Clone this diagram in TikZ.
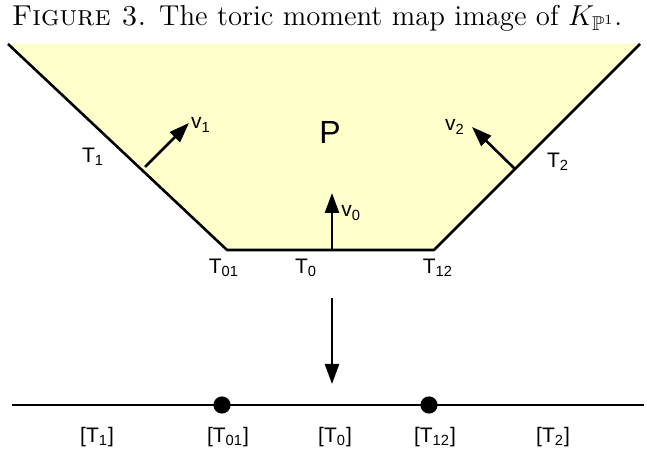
\documentclass[tikz,border=0pt]{standalone}
\usepackage{amssymb}
\usepackage{fontspec}
\newfontfamily\lblfont{Liberation Sans}
\usetikzlibrary{arrows.meta}
\definecolor{polyfill}{RGB}{255,255,204}
\tikzset{
  lbl/.style={font=\lblfont\fontsize{10.5}{12}\selectfont, inner sep=1pt},
  normal/.style={->, line width=1.3pt},
  edge/.style={line width=1.3pt},
  vertex/.style={circle, fill=black, inner sep=0pt, minimum size=8.6pt}
}
\begin{document}
\begin{tikzpicture}[x=10pt, y=10pt, line join=round, >={Triangle[length=10pt,width=7pt]}]
			\useasboundingbox (0,0) rectangle (32.35,22.45);
			\coordinate (TL) at (0.4,20.25);
			\coordinate (A) at (11.35,9.95);
			\coordinate (B) at (21.7,9.95);
			\coordinate (TR) at (32.0,20.25);
			
			\node[font=\fontsize{14.4}{17}\selectfont] (cap) at (15.85,21.55) {\textsc{Figure 3.} The toric moment map image of $K_{\mathbb{P}^1}$.};
			
			\fill[polyfill] (TL) -- (A) -- (B) -- (TR) -- cycle;
			\draw[edge] (TL) -- (A) -- (B) -- (TR);
			
			\coordinate (v1s) at (7.25,14.1);
			\coordinate (v1e) at (9.45,16.3);
			\coordinate (v2s) at (25.75,14.0);
			\coordinate (v2e) at (23.6,16.1);
			\coordinate (v0s) at (16.6,9.95);
			\coordinate (v0e) at (16.6,12.8);
			\draw[normal] (v1s) -- (v1e);
			\draw[normal] (v2s) -- (v2e);
			\draw[normal] (v0s) -- (v0e);
			
			\node[lbl] (v1) at (10.05,16.2) {v\textsubscript{1}};
			\node[lbl] (v2) at (22.75,16.1) {v\textsubscript{2}};
			\node[lbl, anchor=west] (v0) at (16.95,11.8) {v\textsubscript{0}};
			\node[lbl, font=\lblfont\fontsize{16}{18}\selectfont] (P) at (16.5,15.85) {P};
			
			\node[lbl] (T1) at (4.65,14.6) {T\textsubscript{1}};
			\node[lbl] (T2) at (27.9,14.35) {T\textsubscript{2}};
			\node[lbl] (T01) at (11.2,9.05) {T\textsubscript{01}};
			\node[lbl] (T0) at (15.3,9.05) {T\textsubscript{0}};
			\node[lbl] (T12) at (21.9,9.05) {T\textsubscript{12}};
			
			\coordinate (ps) at (16.6,7.55);
			\coordinate (pe) at (16.6,3.25);
			\draw[normal] (ps) -- (pe);
			
			% the quotient line
			\coordinate (L) at (0.6,2.2);
			\coordinate (R) at (32.2,2.2);
			\draw[edge] (L) -- (R);
			\node[vertex] (d01) at (11.1,2.2) {};
			\node[vertex] (d12) at (21.45,2.2) {};
			
			\node[lbl] (q1) at (4.85,0.6) {[T\textsubscript{1}]};
			\node[lbl] (q01) at (11.4,0.6) {[T\textsubscript{01}]};
			\node[lbl] (q0) at (16.75,0.6) {[T\textsubscript{0}]};
			\node[lbl] (q12) at (21.75,0.6) {[T\textsubscript{12}]};
			\node[lbl] (q2) at (27.65,0.6) {[T\textsubscript{2}]};
		\end{tikzpicture}
\end{document}
